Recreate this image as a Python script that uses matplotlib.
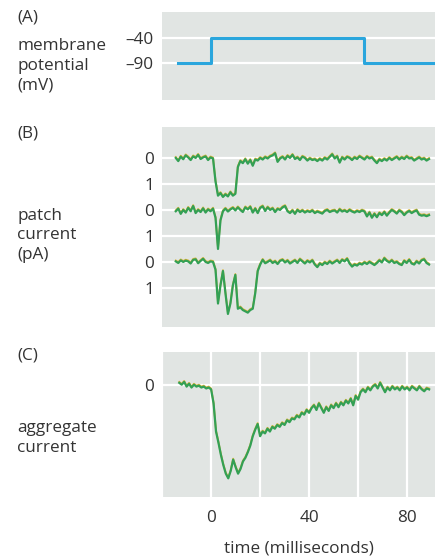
import numpy as np
import matplotlib
matplotlib.use("Agg")
from matplotlib import pyplot as plt
from matplotlib import transforms

plt.rcParams['font.family'] = ['Open Sans', 'DejaVu Sans']

# time axis (ms), one sample per ms
t = np.arange(-13, 90)

# (A) voltage step
pulse_t = [-12, 1, 63, 92]
pulse_v = [-90, -40, -90, -90]

# (B) single channel currents (pA, downward = inward)
patch1 = [0.0, -0.12, 0.05, -0.05, 0.1, 0.02, -0.08, 0.06, 0.0, 0.12, -0.04, 0.02, 0.06, -0.08, 0.02, -0.02,
          -0.9, -1.45, -1.35, -1.5, -1.4, -1.48, -1.32, -1.45, -1.38, -0.35, -0.12, -0.2, -0.05, -0.22, -0.08,
          -0.3, -0.06, -0.1, 0.0, -0.06, 0.03, -0.02, 0.06, 0.1, 0.18, -0.15, -0.02, 0.04, -0.06, 0.08, 0.0,
          0.12, -0.04, 0.02, -0.08, 0.05, 0.0, -0.1, -0.02, -0.08, -0.05, -0.12, -0.04, -0.1, 0.0, -0.06, 0.04,
          0.14, -0.02, 0.06, -0.18, 0.02, -0.06, 0.04, 0.0, -0.08, 0.02, -0.04, 0.06, 0.0, -0.06, 0.05, -0.02,
          0.02, -0.1, -0.2, -0.06, -0.12, -0.04, -0.1, 0.0, -0.08, -0.02, 0.04, -0.06, 0.02, -0.04, 0.06, -0.02,
          0.0, -0.1, -0.04, 0.02, -0.06, -0.02, -0.1, -0.04]
patch2 = [-0.05, 0.05, -0.15, 0.0, -0.1, 0.08, -0.05, 0.15, -0.12, 0.0, -0.08, 0.06, -0.1, 0.02, -0.05, 0.05,
          -0.3, -1.5, -0.4, -0.05, 0.05, -0.06, 0.02, 0.08, -0.02, 0.1, 0.0, -0.08, 0.1, 0.02, 0.12, -0.1, 0.05,
          -0.12, 0.08, 0.14, -0.04, 0.1, 0.0, 0.06, -0.08, 0.04, 0.0, 0.1, 0.15, -0.05, -0.12, -0.02, -0.15, 0.0,
          -0.08, -0.02, -0.1, -0.04, -0.08, -0.02, -0.12, -0.06, -0.1, -0.14, -0.04, 0.0, -0.08, -0.04, -0.02,
          -0.1, 0.02, -0.06, -0.02, -0.08, 0.0, -0.06, -0.1, -0.04, -0.08, -0.02, -0.06, -0.25, -0.1, -0.3,
          -0.15, -0.28, -0.12, -0.2, -0.08, -0.22, -0.1, 0.0, -0.06, -0.14, -0.02, -0.08, -0.2, -0.1, -0.04,
          -0.12, -0.06, -0.02, -0.18, -0.22, -0.2, -0.24, -0.2]
patch3 = [0.02, -0.04, 0.06, 0.0, 0.05, 0.02, -0.06, 0.08, 0.1, -0.05, 0.04, 0.12, 0.0, -0.04, 0.02, 0.0,
          -0.3, -1.6, -0.9, -0.35, -1.2, -2.0, -1.6, -0.9, -0.5, -1.8, -1.75, -1.85, -1.9, -1.95, -1.85, -1.8,
          -1.2, -0.35, -0.1, 0.08, -0.05, 0.0, 0.06, -0.04, 0.02, -0.08, 0.04, 0.08, -0.02, 0.05, -0.06, 0.0,
          0.06, -0.04, 0.1, 0.02, -0.06, 0.04, -0.02, 0.06, -0.1, -0.2, -0.06, -0.12, -0.02, -0.08, 0.02, -0.06,
          0.0, 0.06, -0.04, 0.08, 0.02, 0.12, -0.06, -0.18, -0.1, -0.14, -0.06, -0.1, -0.02, -0.08, 0.0, -0.06,
          -0.12, -0.04, 0.06, -0.02, 0.14, 0.04, -0.02, 0.06, -0.04, 0.0, -0.08, -0.12, 0.04, -0.04, 0.08,
          -0.06, -0.1, 0.02, -0.06, 0.06, 0.1, -0.04, -0.1]

# (C) aggregate current (relative units, peak = -1)
aggregate = [0.02, 0.0, 0.03, -0.02, 0.01, -0.03, 0.0, -0.02, -0.01, -0.03, -0.02, -0.04, -0.03, -0.05,
             -0.2, -0.5, -0.62, -0.75, -0.86, -0.95, -1.0, -0.92, -0.8, -0.88, -0.95, -0.9, -0.82, -0.78,
             -0.72, -0.65, -0.55, -0.48, -0.42, -0.55, -0.5, -0.52, -0.47, -0.5, -0.45, -0.47, -0.43, -0.45,
             -0.41, -0.43, -0.38, -0.4, -0.36, -0.37, -0.33, -0.35, -0.3, -0.32, -0.27, -0.3, -0.25, -0.22,
             -0.27, -0.2, -0.25, -0.3, -0.24, -0.28, -0.22, -0.25, -0.2, -0.24, -0.19, -0.22, -0.17, -0.2,
             -0.15, -0.22, -0.12, -0.16, -0.08, -0.05, -0.08, -0.03, -0.06, -0.02, 0.0, -0.04, 0.02, -0.03,
             -0.08, -0.03, -0.06, -0.02, -0.05, -0.03, -0.06, -0.02, -0.05, -0.03, -0.06, -0.02, -0.04, -0.06,
             -0.02, -0.05, -0.07, -0.04, -0.05]

patch_offsets = [0, -2, -4]
b_ticks = [0, -1, -2, -3, -4, -5]
b_ticklabels = ['0', '1', '0', '1', '0', '1']

bg = '#e1e5e3'
txt = '#333333'
green = '#33a055'
yellow = '#d9b43a'
blue = '#2aa6dd'
fs = 12.3

fig = plt.figure(figsize=(4.37, 5.56), dpi=100)
axA = fig.add_axes([0.371, 0.820, 0.625, 0.158])
axB = fig.add_axes([0.371, 0.412, 0.625, 0.360])
axC = fig.add_axes([0.371, 0.106, 0.625, 0.261])

for ax in (axA, axB, axC):
    ax.set_facecolor(bg)
    for s in ax.spines.values():
        s.set_visible(False)
    ax.set_xlim(-18.5, 91.5)
    ax.tick_params(length=0, labelsize=fs, labelcolor=txt, pad=6)
    ax.set_axisbelow(True)


def trace(ax, x, y):
    up = transforms.offset_copy(ax.transData, fig=fig, x=0, y=0.7, units='points')
    ax.plot(x, y, color=yellow, lw=1.3, transform=up)
    ax.plot(x, y, color=green, lw=1.6)


# (A)
axA.set_ylim(-165, 12)
axA.set_yticks([-40, -90])
axA.set_yticklabels(['\u201340', '\u201390'])
axA.set_xticks([])
axA.grid(axis='y', color='white', lw=1.6)
axA.plot(pulse_t, pulse_v, drawstyle='steps-post', color=blue, lw=2.2)

# (B)
axB.set_ylim(-6.5, 1.2)
axB.set_yticks(b_ticks)
axB.set_yticklabels(b_ticklabels)
axB.set_xticks([])
axB.grid(axis='y', color='white', lw=1.6)
for off, p in zip(patch_offsets, [patch1, patch2, patch3]):
    trace(axB, t, np.array(p) + off)

# (C)
axC.set_ylim(-1.2, 0.35)
axC.set_yticks([0])
axC.set_xticks([0, 40, 80])
axC.set_xticks([-20, 20, 60], minor=True)
axC.tick_params(which='minor', length=0)
axC.tick_params(axis='x', pad=9)
axC.grid(which='both', color='white', lw=1.6)
trace(axC, t, aggregate)
axC.set_xlabel('time (milliseconds)', fontsize=fs, color=txt, labelpad=11)

# left hand labels
lab = dict(fontsize=fs, color=txt, va='center', linespacing=1.3)
fig.text(0.039, 1 - 18 / 556, '(A)', **lab)
fig.text(0.039, 1 - 65.5 / 556, 'membrane\npotential\n(mV)', **lab)
fig.text(0.039, 1 - 133 / 556, '(B)', **lab)
fig.text(0.039, 1 - 235.5 / 556, 'patch\ncurrent\n(pA)', **lab)
fig.text(0.039, 1 - 356 / 556, '(C)', **lab)
fig.text(0.039, 1 - 438 / 556, 'aggregate\ncurrent', **lab)

fig.savefig('out.png', dpi=100)
